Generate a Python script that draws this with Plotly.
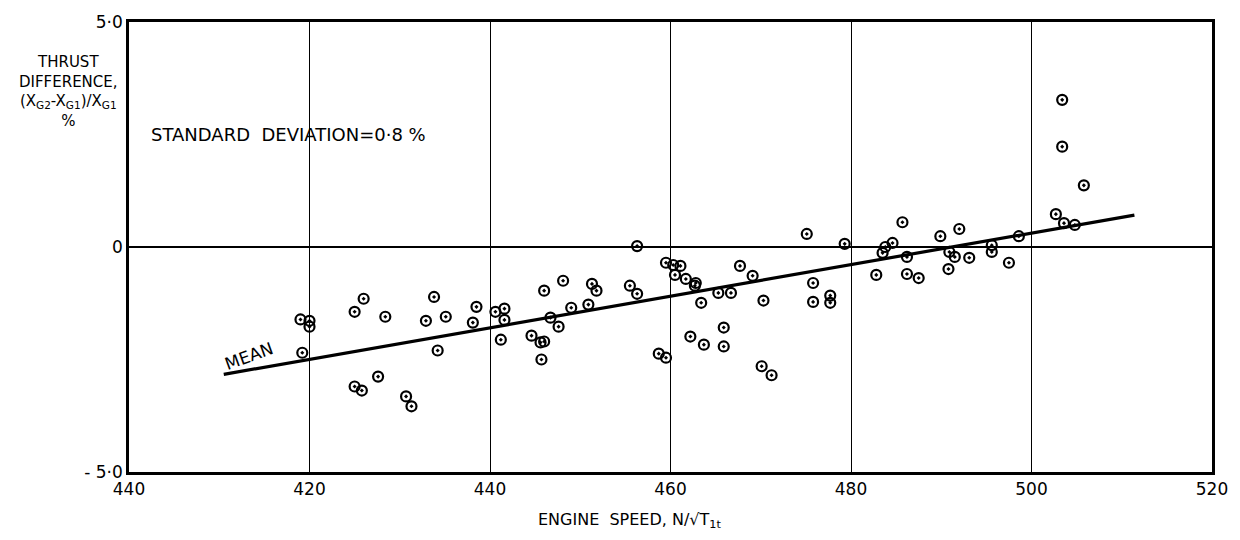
import plotly.graph_objects as go

# Engine speed N/sqrt(T1t) and thrust difference (XG2 - XG1)/XG1, per cent
speed = [
    419.0, 420.0, 420.0, 419.2, 426.0, 425.0, 428.4, 425.0, 425.8, 427.6,
    430.7, 431.3, 433.8, 432.9, 435.1, 434.2, 438.5, 438.1, 440.6, 441.6,
    441.6, 441.2, 444.6, 445.6, 446.0, 445.7, 446.0, 448.1, 446.7, 447.6,
    449.0, 450.9, 451.3, 451.8, 455.5, 456.3, 456.3, 458.7, 459.5, 459.5,
    460.3, 461.1, 460.5, 461.7, 462.8, 462.7, 463.4, 465.3, 466.7, 467.7,
    469.1, 470.3, 462.2, 463.7, 465.9, 465.9, 470.1, 471.2, 475.1, 475.8,
    475.8, 477.7, 477.7, 479.3, 482.8, 483.8, 483.5, 484.6, 485.7, 486.2,
    486.2, 487.5, 489.9, 492.0, 490.9, 491.5, 493.1, 490.8, 495.6, 495.6,
    497.5, 498.6, 502.7, 503.6, 504.8, 503.4, 503.4, 505.8,
]
thrust_diff = [
    -1.61, -1.64, -1.77, -2.35, -1.15, -1.44, -1.55, -3.10, -3.19, -2.88,
    -3.32, -3.54, -1.11, -1.64, -1.55, -2.30, -1.33, -1.68, -1.44, -1.37,
    -1.62, -2.06, -1.97, -2.12, -2.10, -2.50, -0.97, -0.75, -1.57, -1.77,
    -1.35, -1.28, -0.82, -0.97, -0.86, -1.04, 0.02, -2.37, -2.46, -0.35,
    -0.40, -0.42, -0.62, -0.71, -0.80, -0.86, -1.24, -1.02, -1.02, -0.42,
    -0.64, -1.19, -1.99, -2.17, -1.79, -2.21, -2.65, -2.85, 0.29, -0.80,
    -1.22, -1.08, -1.24, 0.07, -0.62, 0.00, -0.13, 0.09, 0.55, -0.22,
    -0.60, -0.69, 0.24, 0.40, -0.11, -0.22, -0.24, -0.49, 0.04, -0.11,
    -0.35, 0.24, 0.73, 0.53, 0.49, 3.27, 2.23, 1.37,
]

# Fitted mean line end points
mean_speed = [410.5, 511.4]
mean_diff = [-2.83, 0.71]

x_ticks = [400, 420, 440, 460, 480, 500, 520]
x_tick_text = ["440", "420", "440", "460", "480", "500", "520"]
y_ticks = [-5, 0, 5]
y_tick_text = ["- 5·0", "0", "5·0"]

FONT = "DejaVu Sans"

fig = go.Figure()

fig.add_trace(go.Scatter(
    x=mean_speed, y=mean_diff, mode="lines",
    line=dict(color="black", width=3.2),
    hoverinfo="skip", showlegend=False,
))

fig.add_trace(go.Scatter(
    x=speed, y=thrust_diff, mode="markers",
    marker=dict(symbol="circle-open-dot", size=10, color="black",
                line=dict(color="black", width=2.2)),
    showlegend=False,
))

fig.update_xaxes(
    range=[400, 520], tickvals=x_ticks, ticktext=x_tick_text,
    showgrid=True, gridcolor="black", gridwidth=1.2,
    showline=True, linecolor="black", linewidth=2.5, mirror=True,
    zeroline=False, ticks="",
    tickfont=dict(family=FONT, size=17, color="black"),
)
fig.update_yaxes(
    range=[-5, 5], tickvals=y_ticks, ticktext=y_tick_text,
    showgrid=False,
    zeroline=True, zerolinecolor="black", zerolinewidth=1.8,
    showline=True, linecolor="black", linewidth=2.5, mirror=True,
    ticks="",
    tickfont=dict(family=FONT, size=17, color="black"),
)

# Axis titles
fig.add_annotation(
    xref="paper", yref="paper", x=-0.056, y=0.845,
    text="THRUST<br>DIFFERENCE,<br>(X<sub>G2</sub>-X<sub>G1</sub>)/X<sub>G1</sub><br>%",
    showarrow=False, align="center", xanchor="center", yanchor="middle",
    font=dict(family=FONT, size=15, color="black"),
)
fig.add_annotation(
    xref="paper", yref="paper", x=0.462, y=-0.108,
    xanchor="center", yanchor="middle",
    text="ENGINE  SPEED, N/√T<sub>1t</sub>", showarrow=False,
    font=dict(family=FONT, size=16, color="black"),
)

# Notes inside the plot
fig.add_annotation(
    x=402.2, y=2.5, xanchor="left", yanchor="middle",
    text="STANDARD  DEVIATION=0·8 %", showarrow=False,
    font=dict(family=FONT, size=18, color="black"),
)
fig.add_annotation(
    x=413.3, y=-2.42, text="MEAN", showarrow=False, textangle=-20,
    font=dict(family=FONT, size=17, color="black"),
)

fig.update_layout(
    width=1240, height=540,
    margin=dict(l=129, r=25, t=18, b=68),
    plot_bgcolor="white", paper_bgcolor="white",
    font=dict(family=FONT, color="black"),
)

fig.write_html("out.html")
